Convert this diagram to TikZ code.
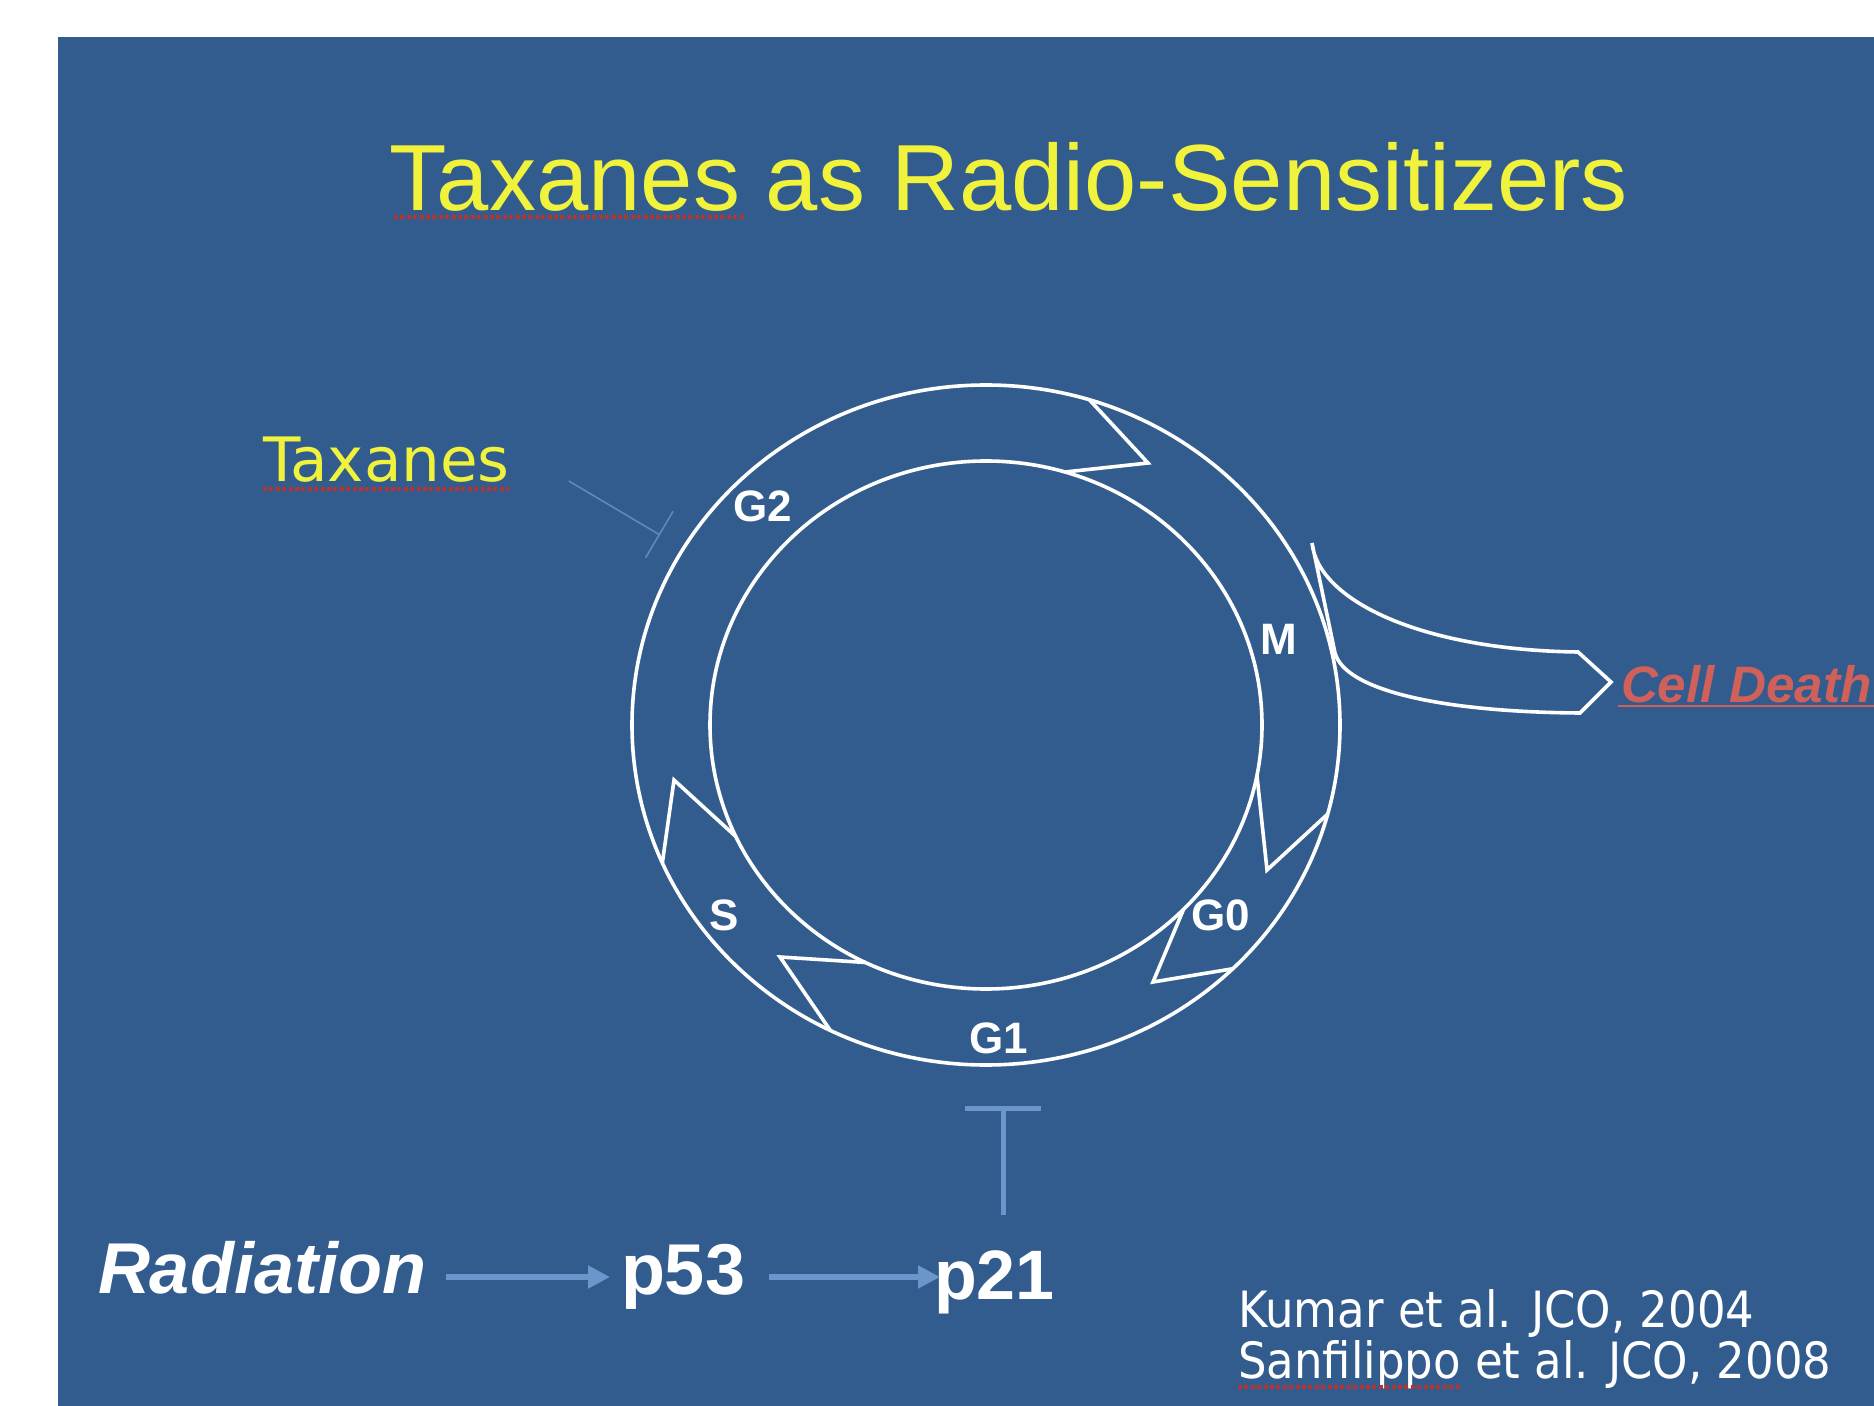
\documentclass[tikz,border=0pt]{standalone}
\usepackage{fontspec}
\setmainfont{Liberation Sans}
\newfontfamily\lucida{DejaVu Sans}
\newfontfamily\lucidanarrow[FakeStretch=0.9]{DejaVu Sans}
\usetikzlibrary{arrows.meta,calc}
\definecolor{bgblue}{HTML}{335C8E}
\definecolor{ttlyellow}{HTML}{F0F23C}
\definecolor{deathred}{HTML}{D0605A}
\definecolor{arrowblue}{HTML}{6A96CC}
\definecolor{thinblue}{HTML}{5F88BC}
\definecolor{spellred}{HTML}{B8322E}
\begin{document}
\begin{tikzpicture}[x=0.5pt,y=-0.5pt,
  txt/.style={inner sep=0pt, outer sep=0pt, anchor=base west},
  ring/.style={draw=white, line width=1.8pt},
  chev/.style={draw=white, line width=1.8pt, line join=miter},
  phase/.style={text=white, font=\fontsize{22}{24}\selectfont\bfseries, inner sep=0pt},
  flow/.style={draw=arrowblue, line width=2.6pt, -{Triangle[length=11pt,width=11pt]}},
  inhib/.style={draw=arrowblue, line width=2.5pt, -{Bar[width=38pt]}},
  thininhib/.style={draw=thinblue, line width=0.8pt, -{Bar[width=27pt]}},
  spell/.style={draw=spellred, line width=2pt, dash pattern=on 2pt off 1.2pt}]
\useasboundingbox (0,0) rectangle (1874,1406);
\fill[white] (0,0) rectangle (1874,1406);
\fill[bgblue] (58,37) rectangle (1874,1406);

% title
\node[inner sep=0pt, anchor=base, text=ttlyellow, font=\fontsize{47}{52}\selectfont] (title) at (1009,211) {Taxanes as Radio-Sensitizers};
\draw[spell] (394,217) -- (745,217);

% cell cycle ring
\coordinate (c) at (986,725);
\draw[ring] (c) ellipse [x radius=177pt, y radius=170pt];
\draw[ring] (c) ellipse [x radius=138pt, y radius=132pt];
\draw[chev] ($(c)+(-73:354 and 340)$) -- (1148,463) -- ($(c)+(-73.4:276 and 264)$);
\draw[chev] ($(c)+(11:276 and 264)$) -- (1267,870) -- ($(c)+(15.2:354 and 340)$);
\draw[chev] ($(c)+(44.3:276 and 264)$) -- (1153,982) -- ($(c)+(45.8:354 and 340)$);
\draw[chev] ($(c)+(115.9:276 and 264)$) -- (780,957) -- ($(c)+(116.1:354 and 340)$);
\draw[chev] ($(c)+(155:276 and 264)$) -- (674,780) -- ($(c)+(156.1:354 and 340)$);

\node[phase] (g2) at (763,506) {G2};
\node[phase] (m) at (1279,639) {M};
\node[phase] (s) at (724,915) {S};
\node[phase] (g0) at (1221,915) {G0};
\node[phase] (g1) at (999,1038) {G1};

% cell death arrow
\coordinate (cdA) at (1312,543);
\coordinate (cdB) at (1335,653);
\draw[chev] (cdB) -- (cdA) .. controls (1318,600) and (1420,650) .. (1578,652) -- (1611,682) -- (1580,713) .. controls (1440,712) and (1345,690) .. cycle;
\node[txt, text=deathred, font=\fontsize{25.6}{28}\selectfont\bfseries\itshape] (death) at (1621,702) {Cell Death};
\draw[deathred, line width=1pt] ($(death.base west)+(-3,4)$) -- (1874,706);

% taxanes
\node[txt, text=ttlyellow, font=\lucida\fontsize{30.6}{34}\selectfont] (tax) at (263,482) {Taxanes};
\draw[spell] (263,489) -- (509,489);
\coordinate (taxend) at (660,535);
\draw[thininhib] ($(tax.base east)+(59,-1)$) -- (taxend);

% bottom pathway
\node[txt, text=white, font=\fontsize{36}{40}\selectfont\bfseries\itshape] (rad) at (98,1293) {Radiation};
\node[txt, text=white, font=\fontsize{36}{40}\selectfont\bfseries] (p53) at (621,1294) {p53};
\node[txt, text=white, font=\fontsize{35}{40}\selectfont\bfseries] (p21) at (934,1299) {p21};
\draw[flow] ([xshift=10pt,yshift=8pt]rad.base east) -- ([xshift=-5.5pt,yshift=8.5pt]p53.base west);
\draw[flow] ([xshift=12pt,yshift=8.5pt]p53.base east) -- ([xshift=3pt,yshift=11pt]p21.base west);
\coordinate (g1bar) at (1003,1106);
\draw[inhib] ($(p21.north -| g1bar)+(0,-35)$) -- (g1bar);

% references
\node[txt, text=white, font=\lucidanarrow\fontsize{25}{28}\selectfont] (ref1) at (1238,1327) {Kumar et al. JCO, 2004};
\node[txt, text=white, font=\lucidanarrow\fontsize{25}{28}\selectfont] (ref2) at (1238,1378) {Sanfilippo et al. JCO, 2008};
\draw[spell] (1238,1387) -- (1462,1387);
\end{tikzpicture}
\end{document}
